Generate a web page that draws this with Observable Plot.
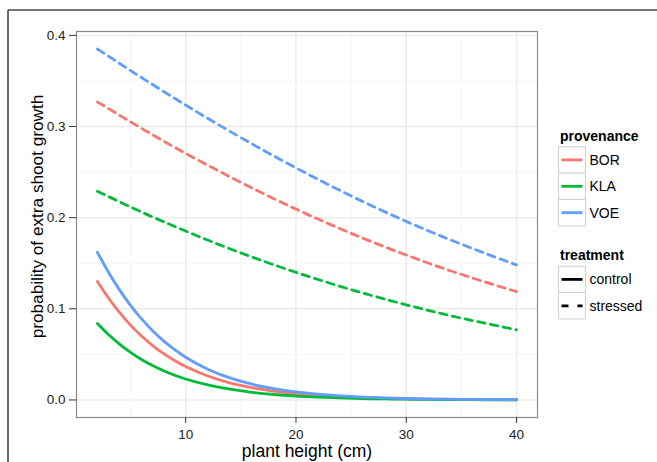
<!DOCTYPE html>
<html>
<head>
<meta charset="utf-8">
<script src="https://cdn.jsdelivr.net/npm/d3@7"></script>
<script src="https://cdn.jsdelivr.net/npm/@observablehq/plot@0.6"></script>
<style>
  html, body { margin: 0; padding: 0; background: #fff; }
  svg { display: block; }
</style>
</head>
<body>
<div id="chart"></div>
<script>
// ---- data ----
const provenances = ["BOR", "KLA", "VOE"];
const provenanceColors = ["#F8766D", "#00BA38", "#619CFF"];
const treatments = ["control", "stressed"];

const controlHeights = [2, 3, 4, 5, 6, 7, 8, 9, 10, 12, 14, 16, 18, 20, 22, 24, 26, 28, 30, 32, 34, 36, 38, 40];
const controlBOR = [0.130, 0.1119, 0.0960, 0.0821, 0.0701, 0.0597, 0.0508, 0.0432, 0.0366, 0.0263, 0.0188, 0.0135, 0.0096, 0.0068, 0.0049, 0.0035, 0.0025, 0.0017, 0.0012, 0.0009, 0.0006, 0.0004, 0.0003, 0.0002];
const controlKLA = [0.084, 0.0718, 0.0613, 0.0522, 0.0444, 0.0377, 0.0320, 0.0271, 0.0230, 0.0165, 0.0118, 0.0084, 0.0060, 0.0043, 0.0031, 0.0022, 0.0015, 0.0011, 0.0008, 0.0006, 0.0004, 0.0003, 0.0002, 0.0001];
const controlVOE = [0.162, 0.1401, 0.1208, 0.1038, 0.0889, 0.0760, 0.0648, 0.0552, 0.0469, 0.0338, 0.0242, 0.0173, 0.0124, 0.0088, 0.0063, 0.0045, 0.0032, 0.0023, 0.0016, 0.0011, 0.0008, 0.0006, 0.0004, 0.0003];

const stressedHeights = [2, 6, 10, 14, 18, 22, 26, 30, 34, 38, 40];
const stressedBOR = [0.327, 0.2980, 0.2705, 0.2449, 0.2208, 0.1985, 0.1778, 0.1590, 0.1418, 0.1262, 0.1189];
const stressedKLA = [0.229, 0.2062, 0.1853, 0.1659, 0.1483, 0.1322, 0.1175, 0.1044, 0.0925, 0.0820, 0.0770];
const stressedVOE = [0.385, 0.3537, 0.3235, 0.2948, 0.2676, 0.2420, 0.2181, 0.1959, 0.1757, 0.1570, 0.1482];

const xTicks = [10, 20, 30, 40];
const xMinor = [5, 15, 25, 35];
const yTicks = [0, 0.1, 0.2, 0.3, 0.4];
const yMinor = [0.05, 0.15, 0.25, 0.35];

// ---- build tidy rows ----
const rows = [];
const ctrl = {BOR: controlBOR, KLA: controlKLA, VOE: controlVOE};
const strs = {BOR: stressedBOR, KLA: stressedKLA, VOE: stressedVOE};
for (const p of provenances) {
  controlHeights.forEach((h, i) => rows.push({height: h, prob: ctrl[p][i], provenance: p, treatment: "control"}));
  stressedHeights.forEach((h, i) => rows.push({height: h, prob: strs[p][i], provenance: p, treatment: "stressed"}));
}

const font = "'Liberation Sans', Arial, Helvetica, sans-serif";

const plot = Plot.plot({
  width: 657,
  height: 462,
  marginLeft: 76,
  marginRight: 120,
  marginTop: 31,
  marginBottom: 45,
  style: {fontFamily: font, fontSize: "13px", color: "#333", background: "#fff"},
  x: {domain: [0.1, 41.9]},
  y: {domain: [-0.01925, 0.40425]},
  color: {domain: provenances, range: provenanceColors},
  marks: [
    Plot.gridX(xMinor, {stroke: "#f6f6f6", strokeOpacity: 1, strokeWidth: 1}),
    Plot.gridY(yMinor, {stroke: "#f6f6f6", strokeOpacity: 1, strokeWidth: 1}),
    Plot.gridX(xTicks, {stroke: "#ebebeb", strokeOpacity: 1, strokeWidth: 1.4}),
    Plot.gridY(yTicks, {stroke: "#ebebeb", strokeOpacity: 1, strokeWidth: 1.4}),
    Plot.line(rows.filter(d => d.treatment === "control"), {
      x: "height", y: "prob", z: "provenance", stroke: "provenance",
      strokeWidth: 2.8, curve: "monotone-x"
    }),
    Plot.line(rows.filter(d => d.treatment === "stressed"), {
      x: "height", y: "prob", z: "provenance", stroke: "provenance",
      strokeWidth: 2.8, strokeDasharray: "7.5,5.5", curve: "monotone-x"
    }),
    Plot.frame({stroke: "#8a8a8a", strokeWidth: 1.2}),
    Plot.axisX(xTicks, {tickSize: 6, tickPadding: 6, fontSize: 13.5, label: null, stroke: "#333", fill: "#222"}),
    Plot.axisY(yTicks, {tickSize: 7, tickPadding: 4, fontSize: 13.5, label: null, tickFormat: d3.format(".1f"), stroke: "#333", fill: "#222"}),
    Plot.text(["plant height (cm)"], {frameAnchor: "bottom", dy: 34, lineAnchor: "middle", fontSize: 17.5, fill: "#000", textAnchor: "middle"}),
    Plot.text(["probability of extra shoot growth"], {frameAnchor: "left", dx: -39.5, dy: -8, rotate: -90, lineAnchor: "middle", fontSize: 17.2, fill: "#000", textAnchor: "middle"})
  ]
});

document.getElementById("chart").appendChild(plot);

// ---- legend & outer frame (decorations) ----
const svg = d3.select(plot);
const colorScale = plot.scale("color");

svg.append("line").attr("x1", 8).attr("x2", 657).attr("y1", 10).attr("y2", 10)
  .attr("stroke", "#444").attr("stroke-width", 1.6);
svg.append("line").attr("x1", 8).attr("x2", 8).attr("y1", 10).attr("y2", 462)
  .attr("stroke", "#444").attr("stroke-width", 1.6);

const lg = svg.append("g").attr("font-family", font).attr("font-size", 14)
  .attr("fill", "#000").attr("text-anchor", "start");
const keyX = 558.5, keyW = 27, keyH = 26.4;

function drawLegend(title, titleY, keyTop, items) {
  lg.append("text").attr("x", keyX + 1.5).attr("y", titleY).attr("dy", "0.35em")
    .attr("text-anchor", "start").attr("font-weight", "bold").text(title);
  items.forEach((it, i) => {
    const y0 = keyTop + i * keyH;
    lg.append("rect").attr("x", keyX).attr("y", y0).attr("width", keyW).attr("height", keyH)
      .attr("fill", "#fff").attr("stroke", "#d0d0d0").attr("stroke-width", 1);
    lg.append("line").attr("x1", keyX + 3).attr("x2", keyX + keyW - 3)
      .attr("y1", y0 + keyH / 2).attr("y2", y0 + keyH / 2)
      .attr("stroke", it.color).attr("stroke-width", 2.8)
      .attr("stroke-dasharray", it.dash || null);
    lg.append("text").attr("x", keyX + keyW + 4).attr("y", y0 + keyH / 2).attr("dy", "0.35em")
      .attr("text-anchor", "start").text(it.label);
  });
}

drawLegend("provenance", 136, 146.7, colorScale.domain.map(p => ({label: p, color: colorScale.apply(p)})));
drawLegend("treatment", 255.5, 266.2, treatments.map(t => ({label: t, color: "#000", dash: t === "stressed" ? "7,9" : null})));
</script>
</body>
</html>
